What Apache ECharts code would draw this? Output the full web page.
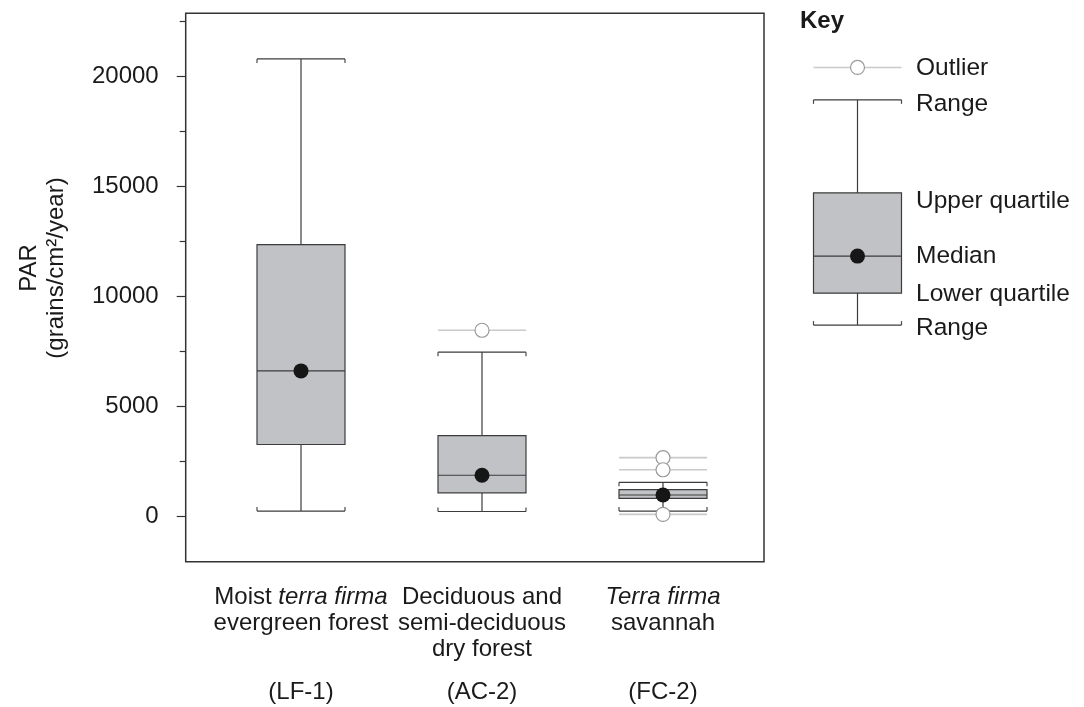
<!DOCTYPE html>
<html>
<head>
<meta charset="utf-8">
<script src="https://cdn.jsdelivr.net/npm/echarts@6/dist/echarts.min.js"></script>
<style>html,body{margin:0;padding:0;background:#fff;}#c{width:1084px;height:707px;}</style>
</head>
<body>
<div id="c"></div>
<script>
// ---- data ----
const categoryLabels = [
  'Moist {i|terra firma}\nevergreen forest\n ',
  'Deciduous and\nsemi-deciduous\ndry forest',
  '{i|Terra firma}\nsavannah\n '
];
const siteCodes = ['(LF-1)', '(AC-2)', '(FC-2)'];
const rangeLow = [220, 200, 220];
const lowerQuartile = [3250, 1050, 800];
const medians = [6600, 1850, 950];
const upperQuartile = [12350, 3650, 1200];
const rangeHigh = [20800, 7450, 1530];
const outliers = [[1, 8450], [2, 2650], [2, 2100], [2, 70]];
const yMajorTicks = [0, 5000, 10000, 15000, 20000];
const yMinorTicks = [2500, 7500, 12500, 17500, 22500];
const yTitle = 'PAR\n(grains/cm\u00B2/year)';

// key (schematic values on a 0-100 scale)
const keyTitle = 'Key';
const keyLabels = ['Outlier', 'Range', 'Upper quartile', 'Median', 'Lower quartile', 'Range'];
const keyOutlier = 97.3;
const keyBox = [3.6, 15.2, 28.7, 51.7, 85.5];

// ---- layout ----
const FONT = '"Liberation Sans", Arial, Helvetica, sans-serif';
const Y_MIN = -2085, Y_MAX = 22877;
const BOX_W = 88;
const frame = {left: 185.7, right: 1084 - 764, top: 13.3, bottom: 707 - 561.7};
const boxGrid = {left: 210.5, right: 330.5, top: 13.3, bottom: 707 - 561.7};
const keyGrid = {left: 813, right: 1084 - 902, top: 60, bottom: 707 - 335};

const boxData = categoryLabels.map((_, i) => [rangeLow[i], lowerQuartile[i], medians[i], upperQuartile[i], rangeHigh[i]]);
const medianData = medians.map((m, i) => [i, m]);
const capData = rangeLow.map((lo, i) => [i, lo, rangeHigh[i]]);
const labelsWithCodes = categoryLabels.map((l, i) => l + '\n{c|' + siteCodes[i] + '}');

function capRender(params, api) {
  const lo = api.coord([api.value(0), api.value(1)]);
  const hi = api.coord([api.value(0), api.value(2)]);
  const h = BOX_W / 2, t = 4;
  const st = {stroke: '#4a4a4a', lineWidth: 1.2};
  const mk = (x, y1, y2) => ({type: 'line', shape: {x1: x, y1: y1, x2: x, y2: y2}, style: st});
  return {type: 'group', children: [
    mk(hi[0] - h, hi[1], hi[1] + t), mk(hi[0] + h, hi[1], hi[1] + t),
    mk(lo[0] - h, lo[1], lo[1] - t), mk(lo[0] + h, lo[1], lo[1] - t)
  ]};
}
function outlierRender(params, api) {
  const p = api.coord([api.value(0), api.value(1)]);
  const h = BOX_W / 2;
  return {type: 'group', children: [
    {type: 'line', shape: {x1: p[0] - h, y1: p[1], x2: p[0] + h, y2: p[1]}, style: {stroke: '#cacaca', lineWidth: 1.6}},
    {type: 'circle', shape: {cx: p[0], cy: p[1], r: 7}, style: {fill: '#fff', stroke: '#9a9a9a', lineWidth: 1.2}}
  ]};
}

const keyTextY = [68, 104, 201, 256.5, 294, 328];
const graphics = [
  {type: 'text', x: 43, y: 268, rotation: Math.PI / 2,
   style: {text: yTitle, font: '24px ' + FONT, align: 'center', verticalAlign: 'middle', lineHeight: 27, fill: '#1a1a1a'}},
  {type: 'text', x: 800, y: 21, style: {text: keyTitle, font: 'bold 24px ' + FONT, align: 'left', verticalAlign: 'middle', fill: '#1a1a1a'}}
].concat(keyLabels.map((t, i) => ({type: 'text', x: 916, y: keyTextY[i],
  style: {text: t, font: '24.5px ' + FONT, align: 'left', verticalAlign: 'middle', fill: '#1a1a1a'}})));

const chart = echarts.init(document.getElementById('c'), null, {renderer: 'canvas'});
chart.setOption({
  animation: false,
  backgroundColor: '#fff',
  textStyle: {fontFamily: FONT},
  grid: [
    Object.assign({show: true, borderColor: '#333', borderWidth: 1.5, backgroundColor: 'transparent', z: 0,
                   containLabel: false, outerBoundsMode: 'none'}, frame),
    Object.assign({show: false, containLabel: false, outerBoundsMode: 'none'}, boxGrid),
    Object.assign({show: false, containLabel: false, outerBoundsMode: 'none'}, keyGrid)
  ],
  xAxis: [
    {gridIndex: 0, type: 'category', data: ['a'], show: false},
    {gridIndex: 1, type: 'category', data: labelsWithCodes,
     axisLine: {show: false}, axisTick: {show: false}, splitLine: {show: false},
     axisLabel: {interval: 0, margin: 23, fontSize: 24, lineHeight: 26, color: '#1a1a1a', fontFamily: FONT,
       rich: {i: {fontStyle: 'italic', fontSize: 24, lineHeight: 26, color: '#1a1a1a', fontFamily: FONT},
              c: {fontSize: 24, lineHeight: 60, color: '#1a1a1a', fontFamily: FONT}}}},
    {gridIndex: 2, type: 'category', data: ['key'], show: false}
  ],
  yAxis: [
    {gridIndex: 0, type: 'value', min: Y_MIN, max: Y_MAX, position: 'left',
     axisLine: {show: false}, splitLine: {show: false},
     axisTick: {show: true, length: 9, customValues: yMajorTicks, lineStyle: {color: '#333', width: 1.2}},
     axisLabel: {customValues: yMajorTicks, margin: 27, fontSize: 24, color: '#1a1a1a', fontFamily: FONT,
                 formatter: v => String(v)}},
    {gridIndex: 0, type: 'value', min: Y_MIN, max: Y_MAX, position: 'left',
     axisLine: {show: false}, splitLine: {show: false},
     axisTick: {show: true, length: 6, customValues: yMinorTicks, lineStyle: {color: '#333', width: 1.2}},
     axisLabel: {show: false}},
    {gridIndex: 1, type: 'value', min: Y_MIN, max: Y_MAX, show: false},
    {gridIndex: 2, type: 'value', min: 0, max: 100, show: false}
  ],
  graphic: graphics,
  series: [
    {type: 'boxplot', xAxisIndex: 1, yAxisIndex: 2, data: boxData, boxWidth: [BOX_W, BOX_W],
     itemStyle: {color: '#c1c2c5', borderColor: '#3c3c3c', borderWidth: 1.2}, silent: true, z: 2},
    {type: 'custom', xAxisIndex: 1, yAxisIndex: 2, data: capData, renderItem: capRender, silent: true, z: 2},
    {type: 'custom', xAxisIndex: 1, yAxisIndex: 2, data: outliers, renderItem: outlierRender, silent: true, z: 3},
    {type: 'scatter', xAxisIndex: 1, yAxisIndex: 2, data: medianData, symbol: 'circle', symbolSize: 15,
     itemStyle: {color: '#161616', opacity: 1}, silent: true, z: 4},
    // key
    {type: 'boxplot', xAxisIndex: 2, yAxisIndex: 3, data: [keyBox], boxWidth: [BOX_W, BOX_W],
     itemStyle: {color: '#c1c2c5', borderColor: '#3c3c3c', borderWidth: 1.2}, silent: true, z: 2},
    {type: 'custom', xAxisIndex: 2, yAxisIndex: 3, data: [[0, keyBox[0], keyBox[4]]], renderItem: capRender, silent: true, z: 2},
    {type: 'custom', xAxisIndex: 2, yAxisIndex: 3, data: [[0, keyOutlier]], renderItem: outlierRender, silent: true, z: 3},
    {type: 'scatter', xAxisIndex: 2, yAxisIndex: 3, data: [[0, keyBox[2]]], symbol: 'circle', symbolSize: 15,
     itemStyle: {color: '#161616', opacity: 1}, silent: true, z: 4}
  ]
});
</script>
</body>
</html>
